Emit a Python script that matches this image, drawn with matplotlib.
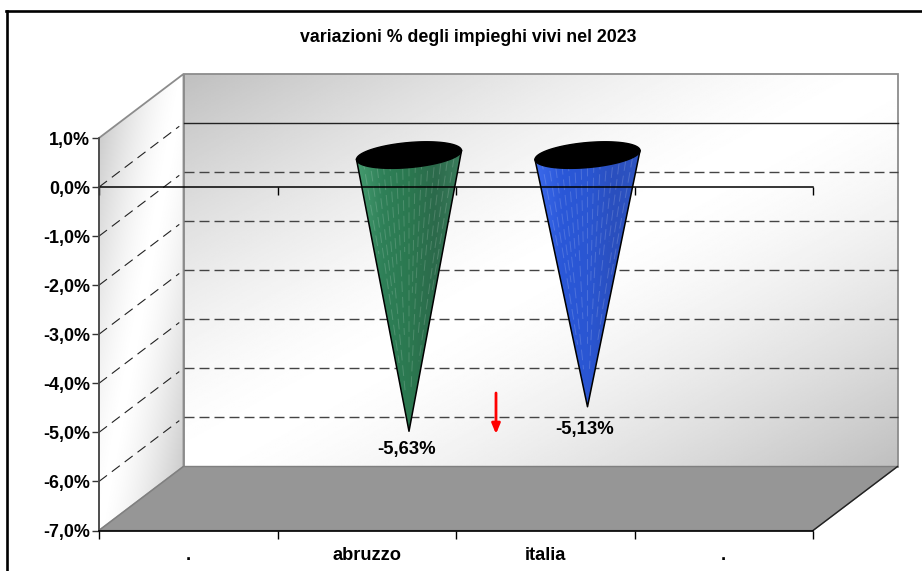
import numpy as np
import matplotlib
matplotlib.use("Agg")
import matplotlib.pyplot as plt
from matplotlib.colors import LinearSegmentedColormap
from matplotlib.lines import Line2D
from matplotlib.patches import Polygon

# data
TITLE = "variazioni % degli impieghi vivi nel 2023"
categories = [".", "abruzzo", "italia", "."]
bar_regions = ["abruzzo", "italia"]
bar_values = [-5.63, -5.13]
bar_labels = ["-5,63%", "-5,13%"]
y_ticks = [1, 0, -1, -2, -3, -4, -5, -6, -7]

# figure geometry, pixels
W, H = 922, 571
AX_L, AX_R, AX_T, AX_B = 99, 813, 138, 530.5
DEPTH_X_PX, DEPTH_Y_PX = 84.5, 64
LABEL_OFFSETS = [(-1.5, -7), (-2, -10.5)]
STREAK_LENGTHS = [0.35, 0.75, 0.5, 0.85, 0.4, 0.65]

plt.rcParams["font.family"] = ["Liberation Sans", "DejaVu Sans"]
plt.rcParams["font.weight"] = "bold"

fig = plt.figure(figsize=(W / 100, H / 100), dpi=100, facecolor="white")
ax = fig.add_axes([AX_L / W, 1 - AX_B / H, (AX_R - AX_L) / W, (AX_B - AX_T) / H])
ax.patch.set_visible(False)

n = len(categories)
YMIN, YMAX = min(y_ticks), max(y_ticks)
DX = DEPTH_X_PX * n / (AX_R - AX_L)
DY = DEPTH_Y_PX * (YMAX - YMIN) / (AX_B - AX_T)


def deep(x, y, d):
    """Shift a data point d (0..1) into the depth of the 3D box."""
    return x + d * DX, y + d * DY


def gradient_patch(poly_pts, cmap, img, zorder):
    poly = Polygon(poly_pts, closed=True, transform=ax.transData, fc="none", ec="none")
    ax.add_patch(poly)
    xs = [p[0] for p in poly_pts]
    ys = [p[1] for p in poly_pts]
    im = ax.imshow(img, cmap=cmap, vmin=0, vmax=1, aspect="auto", interpolation="bilinear",
                   extent=[min(xs), max(xs), min(ys), max(ys)], origin="upper", zorder=zorder)
    im.set_clip_path(poly)
    im.set_clip_box(fig.bbox)
    return im


def wall_img(size=300):
    u, v = np.meshgrid(np.linspace(0, 1, size), np.linspace(0, 1, size))
    d = np.abs(u + v - 1)
    return 1 - 0.25 * d ** 1.5


# walls
back = [deep(0, YMAX, 1), deep(n, YMAX, 1), deep(n, YMIN, 1), deep(0, YMIN, 1)]
side = [deep(0, YMAX, 0), deep(0, YMAX, 1), deep(0, YMIN, 1), deep(0, YMIN, 0)]
floor = [deep(0, YMIN, 0), deep(n, YMIN, 0), deep(n, YMIN, 1), deep(0, YMIN, 1)]
gradient_patch(back, "gray", wall_img(), 1)
gradient_patch(side, "gray", wall_img(), 1)
ax.add_patch(Polygon(back, closed=True, fc="none", ec="#8c8c8c", lw=1.3, zorder=2, clip_on=False))
ax.add_patch(Polygon(side, closed=True, fc="none", ec="#8c8c8c", lw=1.3, zorder=2, clip_on=False))
ax.add_patch(Polygon(floor, closed=True, fc="#969696", ec="#808080", lw=1.0, zorder=2, clip_on=False))
ax.plot(*zip(deep(n, YMIN, 0), deep(n, YMIN, 1)), color="#222222", lw=1.0, zorder=3, clip_on=False)

# gridlines on side and back wall
for v in y_ticks:
    if v in (YMAX, YMIN):
        continue
    ls = "-" if v == 0 else (0, (7.2, 3.6))
    col = "#222222" if v == 0 else "#444444"
    p0, p1 = deep(0, v, 1), deep(n, v, 1)
    ax.plot([p0[0], p1[0]], [p0[1], p1[1]], color=col, lw=1.0, ls=ls, zorder=3, clip_on=False)
for v in y_ticks:
    if v == YMIN or v == YMAX:
        continue
    p0, p1 = deep(0, v, 0), deep(0, v, 0.95)
    ax.plot([p0[0], p1[0]], [p0[1], p1[1]], color="#222222", lw=0.8, ls=(0, (9, 5.5)), zorder=3, clip_on=False)

# cones
cone_colors = {
    "abruzzo": ["#469c70", "#2f8058", "#2b7850", "#2c6a4b", "#3a7d5c"],
    "italia": ["#3c6aec", "#2b58d8", "#2a56d2", "#2a4fbe", "#2f55c2"],
}
RIM_A = 49.5 * n / (AX_R - AX_L)
RIM_B = 0.208
for region, val, lab, off in zip(bar_regions, bar_values, bar_labels, LABEL_OFFSETS):
    i = categories.index(region)
    cx, cy = deep(i + 0.5, 0, 0.5)
    tx, ty = deep(i + 0.5, val, 0.5)
    t = np.linspace(0, 2 * np.pi, 200)
    ex = cx + RIM_A * np.cos(t) + RIM_B * DX * np.sin(t)
    ey = cy + RIM_B * DY * np.sin(t)
    il, ir = np.argmin(ex), np.argmax(ex)
    pl, pr = (ex[il], ey[il]), (ex[ir], ey[ir])
    tri = [(tx, ty), pl, pr]

    cmap = LinearSegmentedColormap.from_list(region, cone_colors[region])
    gradient_patch(tri, cmap, np.linspace(0, 1, 200).reshape(1, -1), 4)
    # pale facet streaks, uneven lengths so they do not end in a visible band
    for k, f in enumerate(np.linspace(0.06, 0.94, 15)):
        rx, ry = pl[0] + f * (pr[0] - pl[0]), pl[1] + f * (pr[1] - pl[1])
        frac = STREAK_LENGTHS[k % len(STREAK_LENGTHS)]
        ax.plot([rx, rx + frac * (tx - rx)], [ry, ry + frac * (ty - ry)],
                color="white", alpha=0.16, lw=0.7, ls=(k * 3, (11, 5)), zorder=5, clip_on=False)
    ax.plot([pl[0], tx, pr[0]], [pl[1], ty, pr[1]], color="black", lw=1.1, zorder=6, clip_on=False)
    ax.fill(ex, ey, color="black", zorder=7, clip_on=False)
    ax.annotate(lab, (tx, ty), xytext=off, textcoords="offset points", ha="center", va="top",
                fontsize=13.3, zorder=9, annotation_clip=False)

# zero line with its small ticks
ax.plot([0, n], [0, 0], color="black", lw=1.1, zorder=8, clip_on=False)
ax.vlines(range(n + 1), -0.16, 0, color="black", lw=1.0, zorder=8, clip_on=False)

# axes
ax.set_xlim(0, n)
ax.set_ylim(YMIN, YMAX)
ax.set_yticks(y_ticks)
ax.set_yticklabels([f"{v:.1f}%".replace(".", ",") for v in y_ticks], fontsize=12.9)
ax.set_xticks(range(n + 1))
ax.set_xticklabels([])
ax.set_xticks(np.arange(n) + 0.5, labels=categories, minor=True, fontsize=13.2)
ax.tick_params(axis="x", which="major", length=5.8, width=1.0)
ax.tick_params(axis="x", which="minor", length=0, pad=12)
ax.tick_params(axis="y", length=5, width=1.0, pad=1.5, color="#333333")
for s in ("top", "right"):
    ax.spines[s].set_visible(False)
ax.spines["left"].set_color("#444444")
ax.spines["left"].set_linewidth(1.2)
ax.spines["left"].set_zorder(8)
ax.spines["bottom"].set_linewidth(1.2)
ax.spines["bottom"].set_zorder(8)

fig.text(468.5 / W, 1 - 38 / H, TITLE, ha="center", va="center", fontsize=12.8)

# red arrow
ax.annotate("", xy=(496 / W, 1 - 434 / H), xytext=(496 / W, 1 - 393 / H),
            xycoords="figure fraction", textcoords="figure fraction",
            arrowprops=dict(arrowstyle="-|>,head_width=0.25,head_length=0.6", color="#ff0000", lw=2,
                            shrinkA=0, shrinkB=0), zorder=9, annotation_clip=False)

# outer frame, only left and top are visible in the crop
fig.add_artist(Line2D([7 / W, 7 / W], [0, 1 - 10.5 / H], color="black", lw=1.9, transform=fig.transFigure))
fig.add_artist(Line2D([6 / W, 1], [1 - 10.5 / H, 1 - 10.5 / H], color="black", lw=1.9, transform=fig.transFigure))

fig.savefig("out.png", dpi=100)
